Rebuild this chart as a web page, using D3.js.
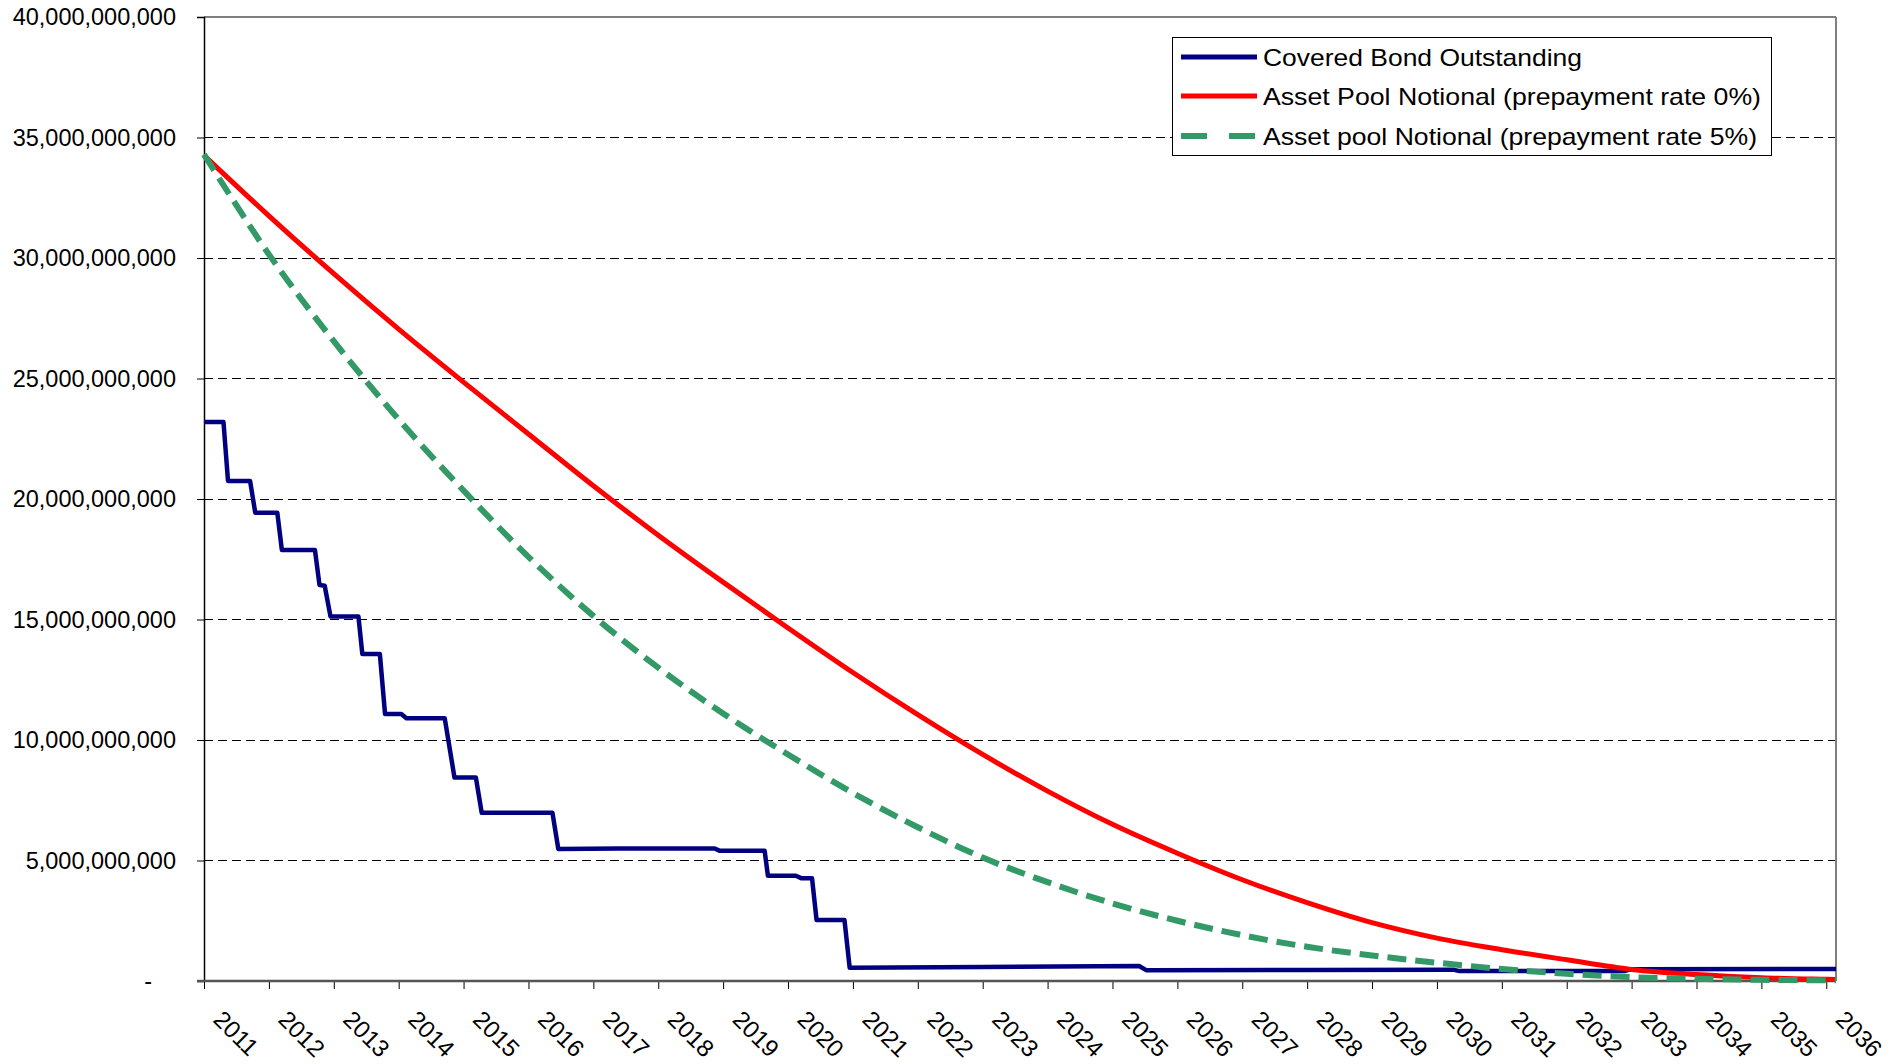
<!DOCTYPE html>
<html>
<head>
<meta charset="utf-8">
<script src="https://cdn.jsdelivr.net/npm/d3@7"></script>
<style>
  html, body { margin: 0; padding: 0; background: #fff; }
  svg { display: block; font-family: "Liberation Sans", Arial, sans-serif; }
</style>
</head>
<body>
<svg id="chart" width="1904" height="1064"></svg>
<script>
// ---------- data (values in billions) ----------
const yearTicks = [2011, 2012, 2013, 2014, 2015, 2016, 2017, 2018, 2019, 2020, 2021, 2022, 2023,
  2024, 2025, 2026, 2027, 2028, 2029, 2030, 2031, 2032, 2033, 2034, 2035, 2036];
const yTickValues = [0, 5, 10, 15, 20, 25, 30, 35, 40];

const poolYears = [2011, 2012, 2013, 2014, 2015, 2016, 2017, 2018, 2019, 2020, 2021, 2022, 2023,
  2024, 2025, 2026, 2027, 2028, 2029, 2030, 2031, 2032, 2033, 2034, 2035, 2036, 2036.15];
const pool0 = [34.26, 31.75, 29.35, 27.05, 24.85, 22.7, 20.55, 18.5, 16.55, 14.65, 12.8, 11.05, 9.4,
  7.88, 6.5, 5.3, 4.2, 3.25, 2.42, 1.78, 1.3, 0.88, 0.48, 0.27, 0.14, 0.07, 0.06];
const pool5 = [34.3, 30.15, 26.55, 23.3, 20.35, 17.6, 15.15, 13.0, 11.1, 9.4, 7.8, 6.38, 5.12,
  4.1, 3.22, 2.5, 1.9, 1.42, 1.06, 0.76, 0.5, 0.3, 0.16, 0.09, 0.05, 0.03, 0.03];

const bondYears = [2011.00, 2011.30, 2011.37, 2011.71, 2011.79, 2012.13, 2012.20, 2012.71, 2012.78,
  2012.86, 2012.95, 2013.38, 2013.44, 2013.71, 2013.79, 2014.04, 2014.12, 2014.71, 2014.86,
  2015.19, 2015.28, 2016.37, 2016.46, 2017.40, 2018.87, 2018.95, 2019.64, 2019.69, 2020.12,
  2020.21, 2020.37, 2020.44, 2020.87, 2020.95, 2023.00, 2025.41, 2025.52, 2028.00, 2030.25,
  2030.35, 2032.90, 2033.00, 2036.15];
const bondValues = [23.2, 23.2, 20.75, 20.75, 19.43, 19.43, 17.88, 17.88, 16.43,
  16.4, 15.12, 15.12, 13.57, 13.57, 11.08, 11.08, 10.9, 10.9, 8.44,
  8.44, 6.98, 6.98, 5.48, 5.5, 5.5, 5.4, 5.4, 4.37, 4.37,
  4.26, 4.26, 2.53, 2.53, 0.55, 0.58, 0.62, 0.45, 0.46, 0.47,
  0.41, 0.42, 0.49, 0.5];

const seriesNames = ["Covered Bond Outstanding", "Asset Pool Notional (prepayment rate 0%)",
  "Asset pool Notional (prepayment rate 5%)"];
const seriesColors = ["#000080", "#ff0000", "#339966"];

// ---------- layout ----------
const B = 1e9;
const plotLeft = 204, plotRight = 1836, plotTop = 17, plotBottom = 981;
const svg = d3.select("#chart");

const x = d3.scaleLinear().domain([2011, 2036.15]).range([plotLeft, plotRight]);
const y = d3.scaleLinear().domain([0, 40 * B]).range([plotBottom, plotTop]);

// gridlines
svg.append("g").selectAll("line")
  .data(yTickValues.filter(v => v > 0 && v < 40))
  .join("line")
  .attr("x1", plotLeft).attr("x2", plotRight)
  .attr("y1", d => y(d * B)).attr("y2", d => y(d * B))
  .attr("stroke", "#000").attr("stroke-width", 1)
  .attr("stroke-dasharray", "9,5")
  .attr("shape-rendering", "crispEdges");

// plot border top/right
svg.append("line").attr("x1", plotLeft).attr("x2", plotRight).attr("y1", plotTop).attr("y2", plotTop)
  .attr("stroke", "#808080").attr("stroke-width", 2).attr("shape-rendering", "crispEdges");
svg.append("line").attr("x1", plotRight).attr("x2", plotRight).attr("y1", plotTop).attr("y2", plotBottom)
  .attr("stroke", "#808080").attr("stroke-width", 2).attr("shape-rendering", "crispEdges");

// y axis
const yAxis = d3.axisLeft(y)
  .tickValues(yTickValues.map(v => v * B))
  .tickSize(7)
  .tickPadding(21)
  .tickFormat(d => d === 0 ? "" : d3.format(",")(d));
const gy = svg.append("g").attr("transform", `translate(${plotLeft},0)`).call(yAxis);
gy.select(".domain").attr("stroke", "#000").attr("stroke-width", 1.5);
gy.selectAll(".tick line").attr("stroke", "#000");
gy.selectAll(".tick text").attr("font-size", 23.5).attr("fill", "#000")
  .attr("font-family", "'Liberation Sans', Arial, sans-serif");
// zero label "-"
svg.append("text").attr("x", 152).attr("y", y(0)).attr("dy", "0.32em")
  .attr("text-anchor", "end").attr("font-size", 23.5).text("-");

// x axis
const xAxis = d3.axisBottom(x).tickValues(yearTicks).tickSize(8).tickFormat("");
const gx = svg.append("g").attr("transform", `translate(0,${plotBottom})`).call(xAxis);
gx.select(".domain").remove();
gx.selectAll(".tick line").attr("stroke", "#000");
svg.append("line").attr("x1", plotLeft - 7).attr("x2", plotRight).attr("y1", plotBottom).attr("y2", plotBottom)
  .attr("stroke", "#555").attr("stroke-width", 2.5);

svg.append("g").selectAll("text")
  .data(yearTicks)
  .join("text")
  .attr("transform", d => `translate(${x(d) + 8},${plotBottom + 40}) rotate(45)`)
  .attr("font-size", 24)
  .attr("fill", "#000")
  .text(d => d);

// ---------- series ----------
const plot = svg.append("g");
const lineStep = d3.line().x(d => x(d[0])).y(d => y(d[1] * B));
const lineSmooth = d3.line().x(d => x(d[0])).y(d => y(d[1] * B)).curve(d3.curveCatmullRom.alpha(0.5));

plot.append("path")
  .datum(bondYears.map((t, i) => [t, bondValues[i]]))
  .attr("d", lineStep)
  .attr("fill", "none").attr("stroke", seriesColors[0]).attr("stroke-width", 4.5)
  .attr("stroke-linejoin", "round");

plot.append("path")
  .datum(poolYears.map((t, i) => [t, pool0[i]]))
  .attr("d", lineSmooth)
  .attr("fill", "none").attr("stroke", seriesColors[1]).attr("stroke-width", 5);

plot.append("path")
  .datum(poolYears.map((t, i) => [t, pool5[i]]))
  .attr("d", lineSmooth)
  .attr("fill", "none").attr("stroke", seriesColors[2]).attr("stroke-width", 6)
  .attr("stroke-dasharray", "19,9");

// ---------- legend ----------
const lg = svg.append("g");
lg.append("rect").attr("x", 1172.5).attr("y", 37.5).attr("width", 599).attr("height", 118)
  .attr("fill", "#fff").attr("stroke", "#000").attr("stroke-width", 1);
const legendY = [57, 96, 136];
const legendTextLen = [319, 498, 494];
seriesNames.forEach((name, i) => {
  const ln = lg.append("line").attr("x1", 1181).attr("x2", 1257)
    .attr("y1", legendY[i]).attr("y2", legendY[i])
    .attr("stroke", seriesColors[i]).attr("stroke-width", i === 2 ? 6 : 5);
  if (i === 2) ln.attr("stroke-dasharray", "26,22");
  lg.append("text").attr("x", 1263).attr("y", legendY[i]).attr("dy", "0.36em")
    .attr("font-size", 24)
    .attr("textLength", legendTextLen[i]).attr("lengthAdjust", "spacingAndGlyphs")
    .text(name);
});
</script>
</body>
</html>
